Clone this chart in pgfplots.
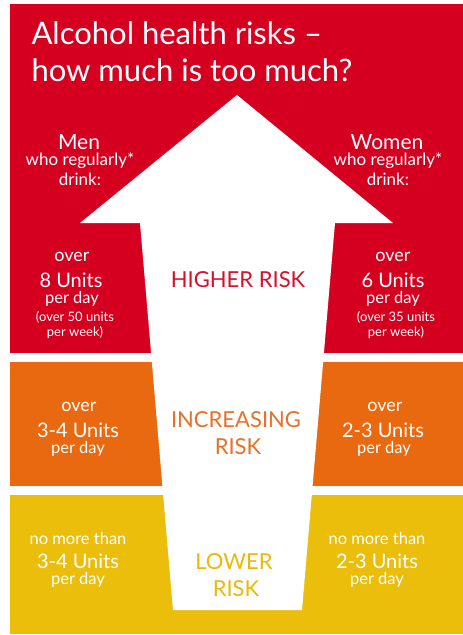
\documentclass[border=0pt]{standalone}
\usepackage{fontspec}
\setmainfont{Lato}
\usepackage{pgfplots}
\pgfplotsset{compat=1.18}
\definecolor{cred}{HTML}{D50020}
\definecolor{corange}{HTML}{E8690F}
\definecolor{cyellow}{HTML}{EABE0B}
\definecolor{tred}{HTML}{D7102E}
\definecolor{torange}{HTML}{E8712A}
\definecolor{tyellow}{HTML}{EAB90C}
\newcommand{\fs}[1]{\fontsize{#1bp}{#1bp}\selectfont}
\begin{document}
\begin{tikzpicture}
\begin{axis}[
  scale only axis, width=463bp, height=635bp,
  xmin=0, xmax=463, ymin=0, ymax=635, y dir=reverse,
  hide axis, clip=false,
  every node/.style={anchor=base, inner sep=0pt, outer sep=0pt},
]
% bands
\addplot[fill=white, draw=none] coordinates {(0,0) (463,0) (463,635) (0,635)} -- cycle;
\addplot[fill=cred, draw=none] coordinates {(10,4) (463,4) (463,353) (10,353)} -- cycle;
\addplot[fill=corange, draw=none] coordinates {(10,362) (463,362) (463,486) (10,486)} -- cycle;
\addplot[fill=cyellow, draw=none] coordinates {(10,495) (463,495) (463,634) (10,634)} -- cycle;
% arrow
\addplot[fill=white, draw=none] coordinates {(237,95) (393,223) (335,223) (302,610) (173,610) (140,223) (80,223)} -- cycle;
% title
\node[anchor=base west, text=white] at (axis cs:28,45) {\fs{31}Alcohol health risks –};
\node[anchor=base west, text=white] at (axis cs:28,82) {\fs{31}how much is too much?};
% men / women
\node[text=white] at (axis cs:79,142) {\fs{21}Men};
\node[text=white] at (axis cs:80,161) {\fs{17}who regularly*};
\node[text=white] at (axis cs:80,179) {\fs{17}drink:};
\node[text=white] at (axis cs:387,142) {\fs{21}Women};
\node[text=white] at (axis cs:388,161) {\fs{17}who regularly*};
\node[text=white] at (axis cs:388,179) {\fs{17}drink:};
% higher
\node[text=white] at (axis cs:72,257) {\fs{18}over};
\node[text=white] at (axis cs:71,280) {\fs{20}8 Units};
\node[text=white] at (axis cs:72,299) {\fs{16.5}per day};
\node[text=white] at (axis cs:75,317) {\fs{13}(over 50 units};
\node[text=white] at (axis cs:75,333) {\fs{13}per week)};
\node[text=white] at (axis cs:393,257) {\fs{18}over};
\node[text=white] at (axis cs:393,280) {\fs{20}6 Units};
\node[text=white] at (axis cs:393,299) {\fs{16.5}per day};
\node[text=white] at (axis cs:396,317) {\fs{13}(over 35 units};
\node[text=white] at (axis cs:396,333) {\fs{13}per week)};
\node[text=tred] at (axis cs:238,280) {\fs{22}HIGHER RISK};
% increasing
\node[text=white] at (axis cs:79,407) {\fs{18}over};
\node[text=white] at (axis cs:78,430) {\fs{20}3-4 Units};
\node[text=white] at (axis cs:78,449) {\fs{16.5}per day};
\node[text=white] at (axis cs:385,407) {\fs{18}over};
\node[text=white] at (axis cs:383,430) {\fs{20}2-3 Units};
\node[text=white] at (axis cs:384,449) {\fs{16.5}per day};
\node[text=torange] at (axis cs:236,420) {\fs{22}INCREASING};
\node[text=torange] at (axis cs:238,447) {\fs{22}RISK};
% lower
\node[text=white] at (axis cs:78,538) {\fs{16.5}no more than};
\node[text=white] at (axis cs:78,561) {\fs{20}3-4 Units};
\node[text=white] at (axis cs:78,580) {\fs{16.5}per day};
\node[text=white] at (axis cs:377,538) {\fs{16.5}no more than};
\node[text=white] at (axis cs:377,561) {\fs{20}2-3 Units};
\node[text=white] at (axis cs:377,580) {\fs{16.5}per day};
\node[text=tyellow] at (axis cs:234,562) {\fs{22}LOWER};
\node[text=tyellow] at (axis cs:236,589) {\fs{22}RISK};
\end{axis}
\end{tikzpicture}
\end{document}
